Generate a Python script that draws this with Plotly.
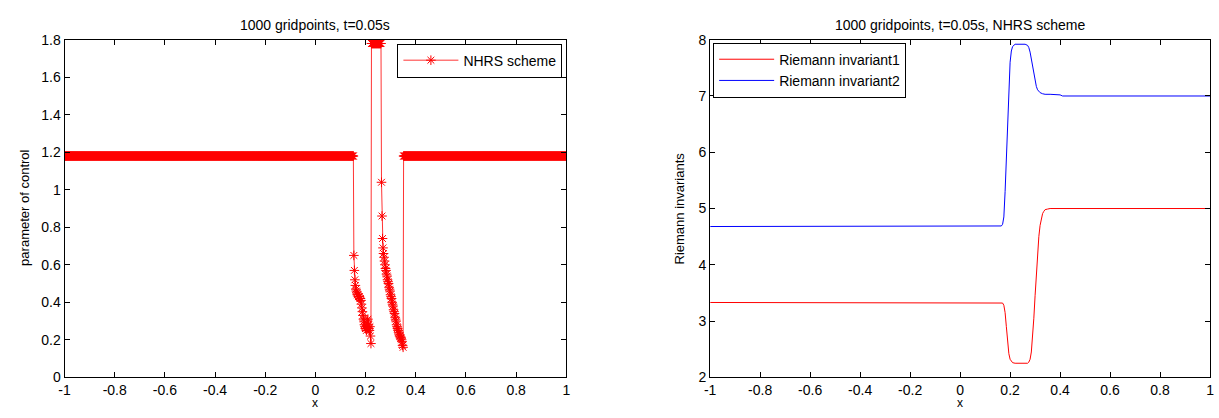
import numpy as np
import plotly.graph_objects as go

# ---- data -------------------------------------------------------------
n_grid = 1000
x_grid = np.linspace(-1, 1, n_grid)

# parameter of control (NHRS scheme)
ctrl_base = 1.18            # undisturbed level on both sides
ctrl_peak = 1.78            # level inside the narrow spike
n_before = 576              # gridpoints left of the disturbed zone
n_peak = 20                 # gridpoints on the spike
ctrl_left_dip = [0.65, 0.57, 0.52, 0.49, 0.47, 0.46, 0.45, 0.44, 0.44, 0.43,
                 0.43, 0.43, 0.42, 0.42, 0.41, 0.39, 0.37, 0.35, 0.33, 0.31,
                 0.30, 0.28, 0.27, 0.26, 0.26, 0.25, 0.27, 0.30, 0.31, 0.28,
                 0.26, 0.25, 0.27, 0.22, 0.18]
ctrl_right_dip = [1.04, 0.86, 0.74, 0.69, 0.66, 0.64, 0.62, 0.60, 0.58, 0.57,
                  0.55, 0.54, 0.52, 0.51, 0.50, 0.48, 0.47, 0.46, 0.44, 0.43,
                  0.42, 0.40, 0.39, 0.38, 0.36, 0.35, 0.34, 0.32, 0.31, 0.30,
                  0.28, 0.27, 0.26, 0.25, 0.24, 0.23, 0.22, 0.22, 0.21, 0.21,
                  0.20, 0.19, 0.17, 0.16]

# Riemann invariants
ri1_x = [-1, 0.16, 0.17, 0.175, 0.18, 0.185, 0.19, 0.195, 0.20, 0.205, 0.21,
         0.22, 0.27, 0.275, 0.28, 0.285, 0.29, 0.295, 0.30, 0.305, 0.31, 0.315,
         0.32, 0.325, 0.33, 0.335, 0.34, 0.35, 0.36, 1]
ri1_v = [3.33, 3.33, 3.32, 3.28, 3.15, 2.90, 2.62, 2.42, 2.32, 2.28, 2.26,
         2.25, 2.25, 2.27, 2.32, 2.45, 2.70, 3.05, 3.45, 3.85, 4.20, 4.50,
         4.70, 4.83, 4.91, 4.95, 4.98, 4.99, 5.00, 5.00]
ri2_x = [-1, 0.16, 0.165, 0.17, 0.175, 0.18, 0.185, 0.19, 0.195, 0.20, 0.205,
         0.21, 0.22, 0.26, 0.27, 0.275, 0.28, 0.285, 0.29, 0.295, 0.30, 0.305,
         0.31, 0.32, 0.33, 0.34, 0.36, 0.40, 0.41, 1]
ri2_v = [4.68, 4.68, 4.69, 4.72, 4.85, 5.30, 5.90, 6.60, 7.20, 7.60, 7.80,
         7.88, 7.92, 7.92, 7.90, 7.86, 7.78, 7.66, 7.52, 7.38, 7.26, 7.17,
         7.11, 7.06, 7.04, 7.03, 7.03, 7.02, 7.00, 7.00]

x_ticks = [-1, -0.8, -0.6, -0.4, -0.2, 0, 0.2, 0.4, 0.6, 0.8, 1]
x_tick_text = ["-1", "-0.8", "-0.6", "-0.4", "-0.2", "0", "0.2", "0.4", "0.6", "0.8", "1"]
y1_ticks = [0, 0.2, 0.4, 0.6, 0.8, 1, 1.2, 1.4, 1.6, 1.8]
y1_tick_text = ["0", "0.2", "0.4", "0.6", "0.8", "1", "1.2", "1.4", "1.6", "1.8"]
y2_ticks = [2, 3, 4, 5, 6, 7, 8]

# assemble the control profile on the grid
n_after = n_grid - n_before - len(ctrl_left_dip) - n_peak - len(ctrl_right_dip)
ctrl = np.concatenate([
    np.full(n_before, ctrl_base),
    ctrl_left_dip,
    np.full(n_peak, ctrl_peak),
    ctrl_right_dip,
    np.full(n_after, ctrl_base),
])

# ---- figure -----------------------------------------------------------
W, H = 1219, 418
FONT = "Liberation Sans, Arial, sans-serif"

def px_x(p):
    return p / W

def px_y(p):
    return 1 - p / H

fig = go.Figure()

fig.add_trace(go.Scatter(
    x=x_grid, y=ctrl, mode="lines+markers", name="NHRS scheme",
    line=dict(color="red", width=0.8),
    marker=dict(symbol="asterisk-open", size=8, color="red",
                line=dict(color="red", width=1)),
    xaxis="x", yaxis="y", legend="legend",
))
fig.add_trace(go.Scatter(
    x=ri1_x, y=ri1_v, mode="lines", name="Riemann invariant1",
    line=dict(color="red", width=1),
    xaxis="x2", yaxis="y2", legend="legend2",
))
fig.add_trace(go.Scatter(
    x=ri2_x, y=ri2_v, mode="lines", name="Riemann invariant2",
    line=dict(color="blue", width=1),
    xaxis="x2", yaxis="y2", legend="legend2",
))

ydom = [px_y(384), px_y(33)]
axis_common = dict(
    showline=True, mirror="allticks", linecolor="black", linewidth=1,
    ticks="inside", ticklen=5, tickcolor="black", showgrid=False,
    zeroline=False, tickfont=dict(family=FONT, size=14, color="black"),
)

fig.update_layout(
    width=W, height=H,
    margin=dict(l=0, r=0, t=0, b=0),
    paper_bgcolor="white", plot_bgcolor="white",
    font=dict(family=FONT, size=14, color="black"),
    xaxis=dict(domain=[px_x(59), px_x(565)], range=[-1, 1], anchor="y",
               tickvals=x_ticks, ticktext=x_tick_text, **axis_common),
    yaxis=dict(domain=ydom, range=[0, 1.8], anchor="x",
               tickvals=y1_ticks, ticktext=y1_tick_text, **axis_common),
    xaxis2=dict(domain=[px_x(710), px_x(1214)], range=[-1, 1], anchor="y2",
                tickvals=x_ticks, ticktext=x_tick_text, **axis_common),
    yaxis2=dict(domain=ydom, range=[2, 8], anchor="x2",
                tickvals=y2_ticks, **axis_common),
    legend=dict(x=px_x(561), y=px_y(37), xanchor="right", yanchor="top",
                bgcolor="white", bordercolor="black", borderwidth=1,
                itemwidth=55, font=dict(family=FONT, size=14),
                tracegroupgap=0),
    legend2=dict(x=px_x(713), y=px_y(36), xanchor="left", yanchor="top",
                 bgcolor="white", bordercolor="black", borderwidth=1,
                 itemwidth=55, font=dict(family=FONT, size=14),
                 tracegroupgap=0),
    showlegend=True,
)

annotations = [
    dict(text="1000 gridpoints, t=0.05s", x=px_x(312), y=px_y(18)),
    dict(text="1000 gridpoints, t=0.05s, NHRS scheme", x=px_x(962), y=px_y(18)),
    dict(text="x", x=px_x(312), y=px_y(411), size=12),
    dict(text="x", x=px_x(962), y=px_y(411), size=12),
    dict(text="parameter of control", x=px_x(18), y=px_y(208), angle=-90, size=13),
    dict(text="Riemann invariants", x=px_x(679), y=px_y(208), angle=-90, size=13),
]
for a in annotations:
    fig.add_annotation(
        text=a["text"], x=a["x"], y=a["y"], xref="paper", yref="paper",
        xanchor="center", yanchor="middle", showarrow=False,
        textangle=a.get("angle", 0),
        font=dict(family=FONT, size=a.get("size", 14), color="black"),
    )

fig.write_html("out.html")
